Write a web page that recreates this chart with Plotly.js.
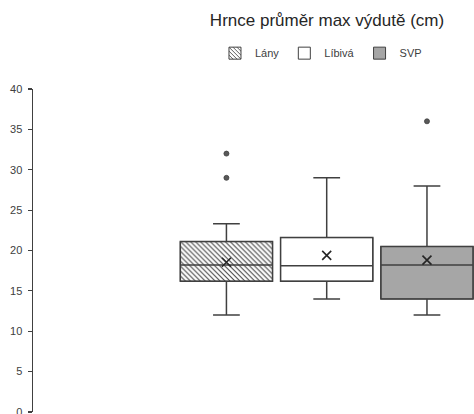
<!DOCTYPE html>
<html>
<head>
<meta charset="utf-8">
<script src="https://cdn.plot.ly/plotly-3.0.1.min.js"></script>
<style>html,body{margin:0;padding:0;background:#fff;}#chart{width:474px;height:414px;}</style>
</head>
<body>
<div id="chart"></div>
<script>
// Data
const seriesNames = ['Lány', 'Líbivá', 'SVP'];
const q1Values = [16.2, 16.2, 14.0];
const medianValues = [18.2, 18.1, 18.2];
const q3Values = [21.1, 21.6, 20.5];
const lowerWhisker = [12, 14, 12];
const upperWhisker = [23.3, 29, 28];
const meanValues = [18.55, 19.4, 18.8];
const outliers = [[32, 29], [], [36]];
const yTicks = [0, 5, 10, 15, 20, 25, 30, 35, 40];

const fills = ['#ffffff', '#ffffff', '#a6a6a6'];
const patterns = ['\\', '', ''];
const lineCol = '#404040';
const positions = seriesNames.map((_, i) => i + 1);
const boxW = 0.92;

const traces = [];
// box bodies (fill / hatching, legend)
seriesNames.forEach((name, i) => {
  traces.push({
    type: 'bar', name: name, x: [positions[i]], y: [q3Values[i] - q1Values[i]], base: [q1Values[i]],
    width: boxW,
    marker: {color: fills[i], line: {color: lineCol, width: 1},
      pattern: {shape: patterns[i], fgcolor: lineCol, bgcolor: '#ffffff', size: 3.5, solidity: 0.3}},
    hoverinfo: 'skip', showlegend: true
  });
});
// whiskers, box outlines, medians
seriesNames.forEach((name, i) => {
  traces.push({
    type: 'box', name: name, x: [positions[i]],
    q1: [q1Values[i]], median: [medianValues[i]], q3: [q3Values[i]],
    lowerfence: [lowerWhisker[i]], upperfence: [upperWhisker[i]],
    width: boxW, whiskerwidth: 0.29,
    fillcolor: 'rgba(0,0,0,0)', line: {color: lineCol, width: 1.5},
    boxpoints: false, hoverinfo: 'skip', showlegend: false
  });
});
// means
traces.push({
  type: 'scatter', mode: 'markers', x: positions, y: meanValues,
  marker: {symbol: 'x-thin', size: 9, line: {color: '#262626', width: 1.6}},
  hoverinfo: 'skip', showlegend: false
});
// outliers
const ox = [], oy = [];
outliers.forEach((arr, i) => arr.forEach(v => { ox.push(positions[i]); oy.push(v); }));
traces.push({
  type: 'scatter', mode: 'markers', x: ox, y: oy,
  marker: {symbol: 'circle', size: 5, color: '#595959', line: {color: '#404040', width: 0.8}},
  hoverinfo: 'skip', showlegend: false
});

const layout = {
  width: 474, height: 414,
  margin: {l: 33, r: 0, t: 89, b: 2},
  paper_bgcolor: '#ffffff', plot_bgcolor: '#ffffff',
  font: {family: 'Liberation Sans, Arial, sans-serif', color: '#404040', size: 10},
  title: {text: 'Hrnce průměr max výdutě (cm)', font: {size: 17, color: '#262626'},
    xref: 'container', x: 327 / 474, xanchor: 'center', yref: 'container', y: 1 - 20 / 414, yanchor: 'middle'},
  barmode: 'overlay',
  showlegend: true,
  legend: {orientation: 'h', x: 0.653, xanchor: 'center', y: 1.111, yanchor: 'middle',
    font: {size: 11, color: '#404040'}, itemwidth: 30, traceorder: 'normal', tracegroupgap: 0},
  xaxis: {range: [-0.929, 3.469], showgrid: false, zeroline: false, showline: false,
    showticklabels: false, ticks: '', fixedrange: true},
  yaxis: {range: [0, 40], tickvals: yTicks, ticktext: yTicks.map(String), showgrid: false, zeroline: false,
    showline: true, linecolor: lineCol, linewidth: 1.5, ticks: 'outside', ticklen: 4, tickwidth: 1.2,
    tickcolor: lineCol, tickfont: {size: 11, color: '#404040'}, ticklabelstandoff: 3,
    ticklabeloverflow: 'allow', automargin: false, fixedrange: true}
};

Plotly.newPlot('chart', traces, layout, {displayModeBar: false, staticPlot: true});
</script>
</body>
</html>
